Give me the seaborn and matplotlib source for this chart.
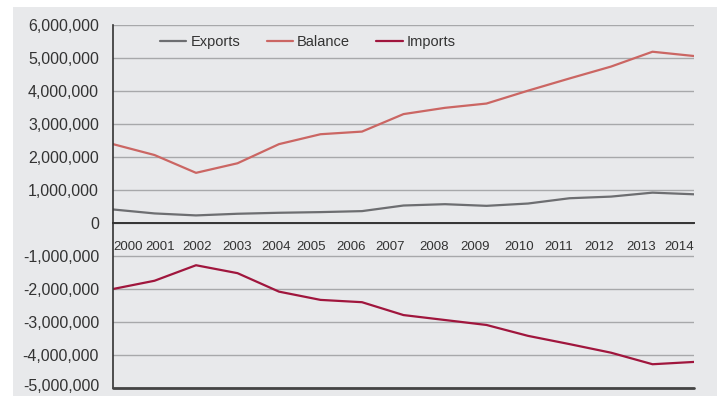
import matplotlib
matplotlib.use("Agg")
import matplotlib.pyplot as plt
import matplotlib.ticker as mticker
import matplotlib.transforms as mtrans
from matplotlib.patches import Rectangle
import seaborn as sns
import pandas as pd

years = list(range(2000, 2015))
exports = [410000, 290000, 230000, 280000, 310000, 330000, 360000, 530000, 570000,
           520000, 590000, 750000, 800000, 920000, 870000]
balance = [2390000, 2060000, 1520000, 1810000, 2390000, 2690000, 2770000, 3300000,
           3490000, 3620000, 4010000, 4380000, 4740000, 5190000, 5060000]
imports = [-2000000, -1750000, -1280000, -1520000, -2080000, -2330000, -2400000,
           -2790000, -2940000, -3090000, -3420000, -3670000, -3930000, -4280000, -4210000]
series_names = ["Exports", "Balance", "Imports"]
colors = ["#6d6e71", "#cb6663", "#a0163d"]
y_ticks = list(range(-5000000, 6000001, 1000000))

df = pd.DataFrame({
    "Year": years * 3,
    "Value": exports + balance + imports,
    "Series": [s for s in series_names for _ in years],
})

sns.set_theme(style="white")
plt.rcParams["font.family"] = ["Liberation Sans", "DejaVu Sans"]

bg = "#e8e9eb"
txt = "#333333"
fig = plt.figure(figsize=(7.17, 3.96), dpi=100)
fig.patch.set_facecolor("white")
rect = Rectangle((13 / 717, 0), 1 - 13 / 717, 1 - 7 / 396,
                 transform=fig.transFigure, facecolor=bg, edgecolor="none", zorder=-10)
fig.add_artist(rect)
ax = fig.add_axes([113 / 717, 1 - 388 / 396, (694 - 113) / 717, (388 - 25) / 396])
ax.set_facecolor(bg)

sns.lineplot(data=df, x="Year", y="Value", hue="Series", hue_order=series_names,
             palette=colors, linewidth=1.6, ax=ax)

ax.set_xlim(2000, 2014)
ax.set_ylim(-5000000, 6000000)
ax.set_yticks(y_ticks)
ax.yaxis.set_major_formatter(mticker.FuncFormatter(lambda v, p: f"{int(v):,}"))
ax.set_xticks(years)
ax.set_xticklabels([str(y) for y in years])
ax.grid(axis="y", color="#a7a8aa", linewidth=1.0)
ax.set_axisbelow(True)

for s in ["top", "right"]:
    ax.spines[s].set_visible(False)
ax.spines["left"].set_color("#333333")
ax.spines["left"].set_linewidth(1.2)
ax.spines["bottom"].set_position(("data", 0))
ax.spines["bottom"].set_color("#333333")
ax.spines["bottom"].set_linewidth(1.4)
ax.axhline(-5000000, color="#444444", linewidth=2.0, zorder=3, clip_on=False)

ax.tick_params(axis="x", direction="out", length=7, width=1.2, color="#333333",
               pad=6, labelsize=9.5, labelcolor=txt)
ax.tick_params(axis="y", length=0, pad=10, labelsize=11.5, labelcolor=txt)

# shift year labels horizontally (pixels) to follow the reference layout
label_shift_px = [15, 6, 1, 0, -3, -9, -11, -13, -11, -11, -9, -11, -12, -11, -15]
for lab, dx in zip(ax.get_xticklabels(), label_shift_px):
    lab.set_transform(lab.get_transform() +
                      mtrans.ScaledTranslation(dx / 100, 0, fig.dpi_scale_trans))
ylabs = ax.get_yticklabels()
ylabs[0].set_transform(ylabs[0].get_transform() +
                       mtrans.ScaledTranslation(0, 3 / 100, fig.dpi_scale_trans))
ax.set_xlabel("")
ax.set_ylabel("")

leg = ax.legend(loc="center", bbox_to_anchor=((308 - 113) / 581, (388 - 42) / 363),
                ncol=3, frameon=False, fontsize=10.5, handlelength=1.8,
                handletextpad=0.3, columnspacing=1.8, labelcolor=txt)
for line in leg.get_lines():
    line.set_linewidth(1.6)

fig.savefig("out.png", dpi=100, facecolor=fig.get_facecolor())
